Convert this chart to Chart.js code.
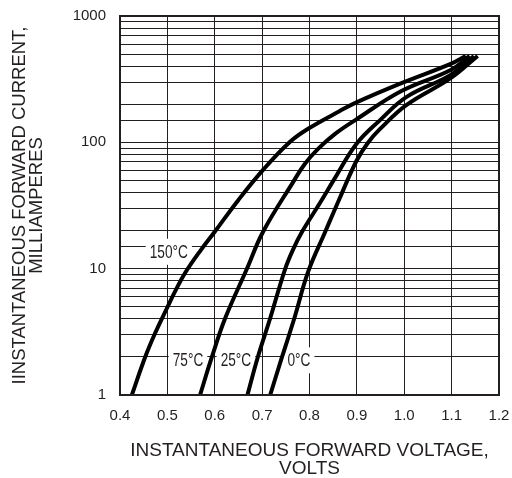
<!DOCTYPE html>
<html>
<head>
<meta charset="utf-8">
<script src="https://cdn.jsdelivr.net/npm/chart.js@4"></script>
<style>
  body { margin: 0; background: #fff; }
  canvas { display: block; }
</style>
</head>
<body>
<canvas id="chart" width="512" height="478"></canvas>
<script>
// courbes (V, mA)
const volts150 = [0.425, 0.453, 0.474, 0.499, 0.516, 0.537, 0.571, 0.600, 0.650, 0.702, 0.759, 0.797, 0.864, 0.899, 0.994, 1.098, 1.130];
const amps150  = [1, 1.99, 3.08, 4.86, 6.58, 9.2, 14.1, 19.6, 35, 60.5, 101, 128, 177, 207, 294, 418, 483];

const volts75 = [0.569, 0.594, 0.622, 0.667, 0.702, 0.766, 0.790, 0.818, 0.854, 0.899, 0.994, 1.098, 1.138];
const amps75  = [1, 2, 4.05, 9.8, 19.6, 48.9, 67.4, 88.7, 116.6, 152, 255, 374, 483];

const volts25 = [0.669, 0.691, 0.717, 0.748, 0.765, 0.784, 0.822, 0.854, 0.899, 0.949, 1.005, 1.098, 1.147];
const amps25  = [1, 2, 4.05, 9.8, 14.1, 19.5, 33.1, 52.3, 97.1, 150, 229, 342, 483];

const volts0 = [0.717, 0.742, 0.768, 0.797, 0.833, 0.864, 0.899, 0.923, 0.949, 1.005, 1.098, 1.155];
const amps0  = [1, 2, 4.05, 9.42, 19.5, 36.3, 71.2, 98.9, 127.7, 198, 322, 483];

// étiquettes des courbes
const labelText  = ['150°C', '75°C', '25°C', '0°C'];
const labelVolts = [0.503, 0.5435, 0.6447, 0.7776];
const labelAmps  = [13.6, 1.88, 1.88, 1.88];

const yTickLabels = [1, 10, 100, 1000];
const xTitle = ['INSTANTANEOUS FORWARD VOLTAGE,', 'VOLTS'];
const yTitle = ['IINSTANTANEOUS FORWARD CURRENT,', 'MILLIAMPERES'];

const ink = '#231f20';
const fontFamily = '"Liberation Sans", Arial, sans-serif';

function toPoints(xs, ys) {
  return xs.map((x, i) => ({ x: x, y: ys[i] }));
}

function curve(xs, ys) {
  return {
    data: toPoints(xs, ys),
    borderColor: '#000',
    borderWidth: 4,
    pointRadius: 0,
    fill: false,
    tension: 0.4,
    borderCapStyle: 'butt'
  };
}

// étiquettes avec fond blanc, sous les courbes (police étroite simulée)
const curveLabels = {
  id: 'curveLabels',
  beforeDatasetsDraw(chart) {
    const ctx = chart.ctx;
    const xs = chart.scales.x, ys = chart.scales.y;
    const squeeze = 0.76;
    ctx.save();
    ctx.font = '18px ' + fontFamily;
    ctx.textBaseline = 'middle';
    labelText.forEach((t, i) => {
      const px = xs.getPixelForValue(labelVolts[i]);
      const py = ys.getPixelForValue(labelAmps[i]);
      const w = ctx.measureText(t).width * squeeze;
      ctx.fillStyle = '#fff';
      ctx.fillRect(px - w / 2 - 4, py - 13, w + 8, 26);
      ctx.save();
      ctx.translate(px - w / 2, py + 1);
      ctx.scale(squeeze, 1);
      ctx.fillStyle = ink;
      ctx.textAlign = 'left';
      ctx.fillText(t, 0, 0);
      ctx.restore();
    });
    ctx.restore();
  }
};

// cadre et titres des axes
const frameAndTitles = {
  id: 'frameAndTitles',
  afterDraw(chart) {
    const ctx = chart.ctx;
    const a = chart.chartArea;
    ctx.save();
    ctx.strokeStyle = ink;
    ctx.lineWidth = 2;
    ctx.strokeRect(a.left, a.top, a.right - a.left, a.bottom - a.top);

    ctx.fillStyle = ink;
    ctx.font = '19px ' + fontFamily;
    ctx.textAlign = 'center';
    ctx.textBaseline = 'middle';
    const cx = (a.left + a.right) / 2;
    ctx.fillText(xTitle[0], cx, 451);
    ctx.fillText(xTitle[1], cx, 469);

    const cy = (a.top + a.bottom) / 2;
    ctx.font = '18.5px ' + fontFamily;
    ctx.translate(20, cy);
    ctx.rotate(-Math.PI / 2);
    ctx.fillText(yTitle[0], 0, 0);
    ctx.fillText(yTitle[1], 0, 17);
    ctx.restore();
  }
};

function noPad(s) {
  s.paddingLeft = 0;
  s.paddingRight = 0;
  s.paddingTop = 0;
  s.paddingBottom = 0;
}

new Chart(document.getElementById('chart'), {
  type: 'line',
  data: {
    datasets: [
      curve(volts150, amps150),
      curve(volts75, amps75),
      curve(volts25, amps25),
      curve(volts0, amps0)
    ]
  },
  options: {
    responsive: false,
    animation: false,
    layout: { padding: { top: 16, right: 13, left: 0, bottom: 0 } },
    plugins: {
      legend: { display: false },
      tooltip: { enabled: false }
    },
    scales: {
      x: {
        type: 'linear',
        min: 0.4,
        max: 1.2,
        afterFit: (s) => { s.height = 83; noPad(s); },
        border: { display: false },
        grid: { color: ink, lineWidth: 1, drawTicks: false },
        ticks: {
          stepSize: 0.1,
          autoSkip: false,
          maxRotation: 0,
          padding: 12,
          color: ink,
          font: { family: fontFamily, size: 15 },
          callback: (v) => v.toFixed(1)
        }
      },
      y: {
        type: 'logarithmic',
        min: 1,
        max: 1000,
        afterFit: (s) => { s.width = 120; noPad(s); },
        border: { display: false },
        grid: { color: ink, lineWidth: 1, drawTicks: false },
        ticks: {
          autoSkip: false,
          padding: 14,
          color: ink,
          font: { family: fontFamily, size: 15 },
          callback: (v) => yTickLabels.includes(Math.round(v)) && Math.abs(v - Math.round(v)) < 1e-9 ? String(Math.round(v)) : ''
        }
      }
    }
  },
  plugins: [curveLabels, frameAndTitles]
});
</script>
</body>
</html>
